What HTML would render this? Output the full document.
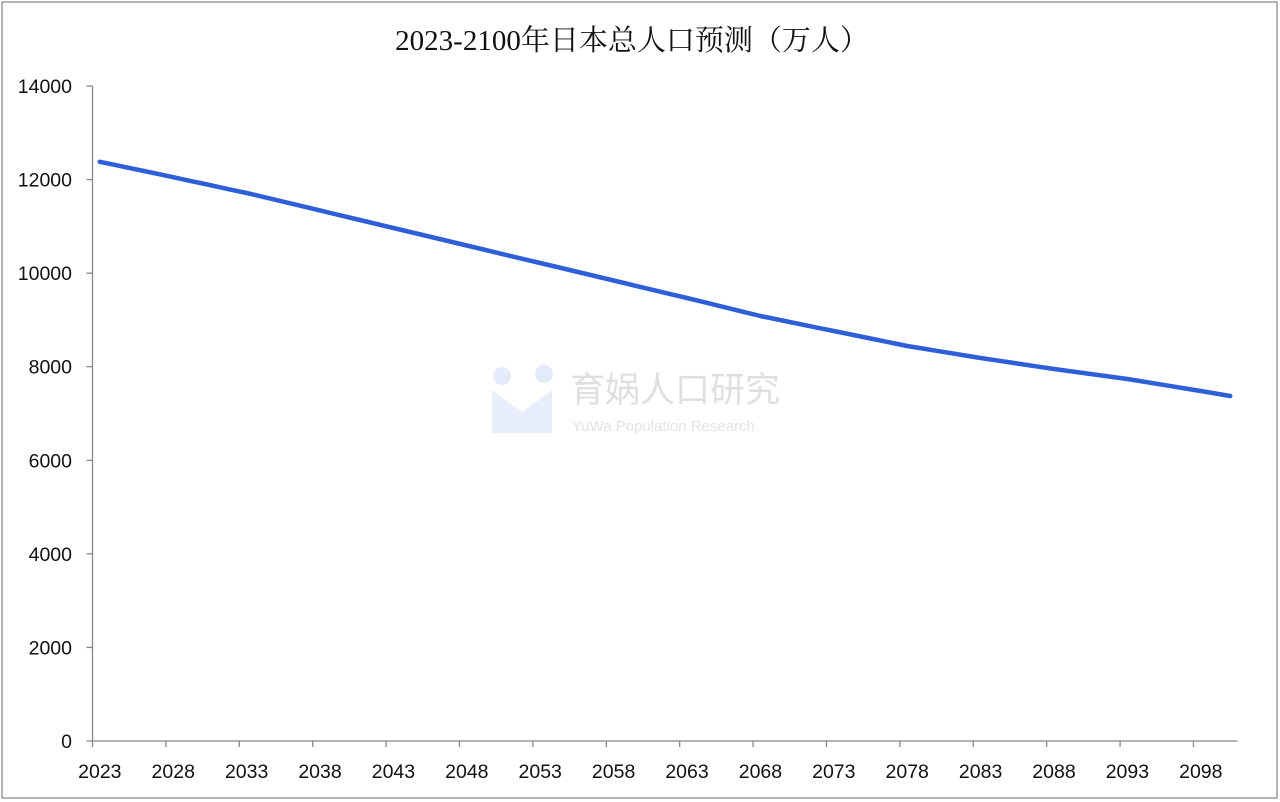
<!DOCTYPE html>
<html><head><meta charset="utf-8"><style>
body{margin:0;background:#fff;}
svg{display:block;font-family:"Liberation Sans","Noto Sans CJK SC",sans-serif;}
</style></head><body>
<svg id="chart" width="1280" height="802">
<rect x="2" y="2" width="1275" height="796" fill="#fff" stroke="#9a9a9a" stroke-width="1.5"/>
<text x="632" y="50" text-anchor="middle" font-size="29" font-family="'Liberation Serif','Noto Serif CJK SC',serif" fill="#111">2023-2100年日本总人口预测（万人）</text>
<g opacity="0.18">
<circle cx="502" cy="376" r="9" fill="#6a8ee8"/><circle cx="544" cy="374" r="9" fill="#6a8ee8"/>
<path d="M492 390 L522 412 L552 390 L552 433 L492 433 Z" fill="#8aa6ee"/>
<text x="570" y="402" font-size="35" fill="#555">育娲人口研究</text>
<text x="572" y="431" font-size="15" fill="#666">YuWa Population Research</text>
</g>
<g id="axes"></g>
<path id="line" fill="none" stroke="#2f5fd8" stroke-width="4.5" stroke-linejoin="round" stroke-linecap="round"/>
</svg>
<script>
const years = [];
for (let y = 2023; y <= 2100; y++) years.push(y);
const population = [12380,12315,12250,12183,12117,12050,11983,11915,11848,11780,11713,11640,11565,11490,11415,11340,11265,11190,11115,11040,10965,10890,10815,10740,10665,10590,10515,10440,10365,10290,10217,10142,10067,9992,9917,9842,9767,9692,9617,9542,9469,9392,9315,9238,9161,9084,9020,8955,8890,8826,8763,8699,8635,8571,8507,8443,8392,8340,8289,8237,8186,8139,8092,8045,7998,7951,7908,7865,7822,7780,7737,7686,7635,7584,7532,7481,7428,7374];
const yTicks = [0,2000,4000,6000,8000,10000,12000,14000];
const xLabelEvery = 5;

const X0 = 92.5, X1 = 1237.5, Y0 = 741, Y1 = 86, YMAX = 14000;
const bw = (X1 - X0) / years.length;
const xs = i => X0 + bw * (i + 0.5);
const ys = v => Y0 - (v / YMAX) * (Y0 - Y1);
const NS = "http://www.w3.org/2000/svg";
const axes = document.getElementById('axes');
function mk(tag, attrs, txt){const e=document.createElementNS(NS,tag);for(const k in attrs)e.setAttribute(k,attrs[k]);if(txt!=null)e.textContent=txt;axes.appendChild(e);return e;}

let e = mk('line',{x1:X0,y1:Y1,x2:X0,y2:Y0,stroke:'#888','stroke-width':1.3});


e = mk('line',{x1:X0,y1:Y0,x2:X1,y2:Y0,stroke:'#888','stroke-width':1.3});


yTicks.forEach(t=>{
  const y=ys(t);
  const l=mk('line',{x1:X0-6,y1:y,x2:X0,y2:y,stroke:'#888','stroke-width':1.3});
  
  
  const tx=mk('text',{x:72,y:y+7,'text-anchor':'end','font-size':19.5,fill:'#111'},String(t));
  
  
});
years.forEach((yr,i)=>{
  if(i%xLabelEvery!==0) return;
  const x=X0+bw*i;
  const l=mk('line',{x1:x,y1:Y0,x2:x,y2:Y0+6,stroke:'#888','stroke-width':1.3});
  
  
  const tx=mk('text',{x:xs(i),y:778,'text-anchor':'middle','font-size':19.5,fill:'#111'},String(yr));
  
  
});
document.getElementById('line').setAttribute('d', population.map((v,i)=>(i?'L':'M')+xs(i).toFixed(1)+' '+ys(v).toFixed(1)).join(' '));
</script>
</body></html>
